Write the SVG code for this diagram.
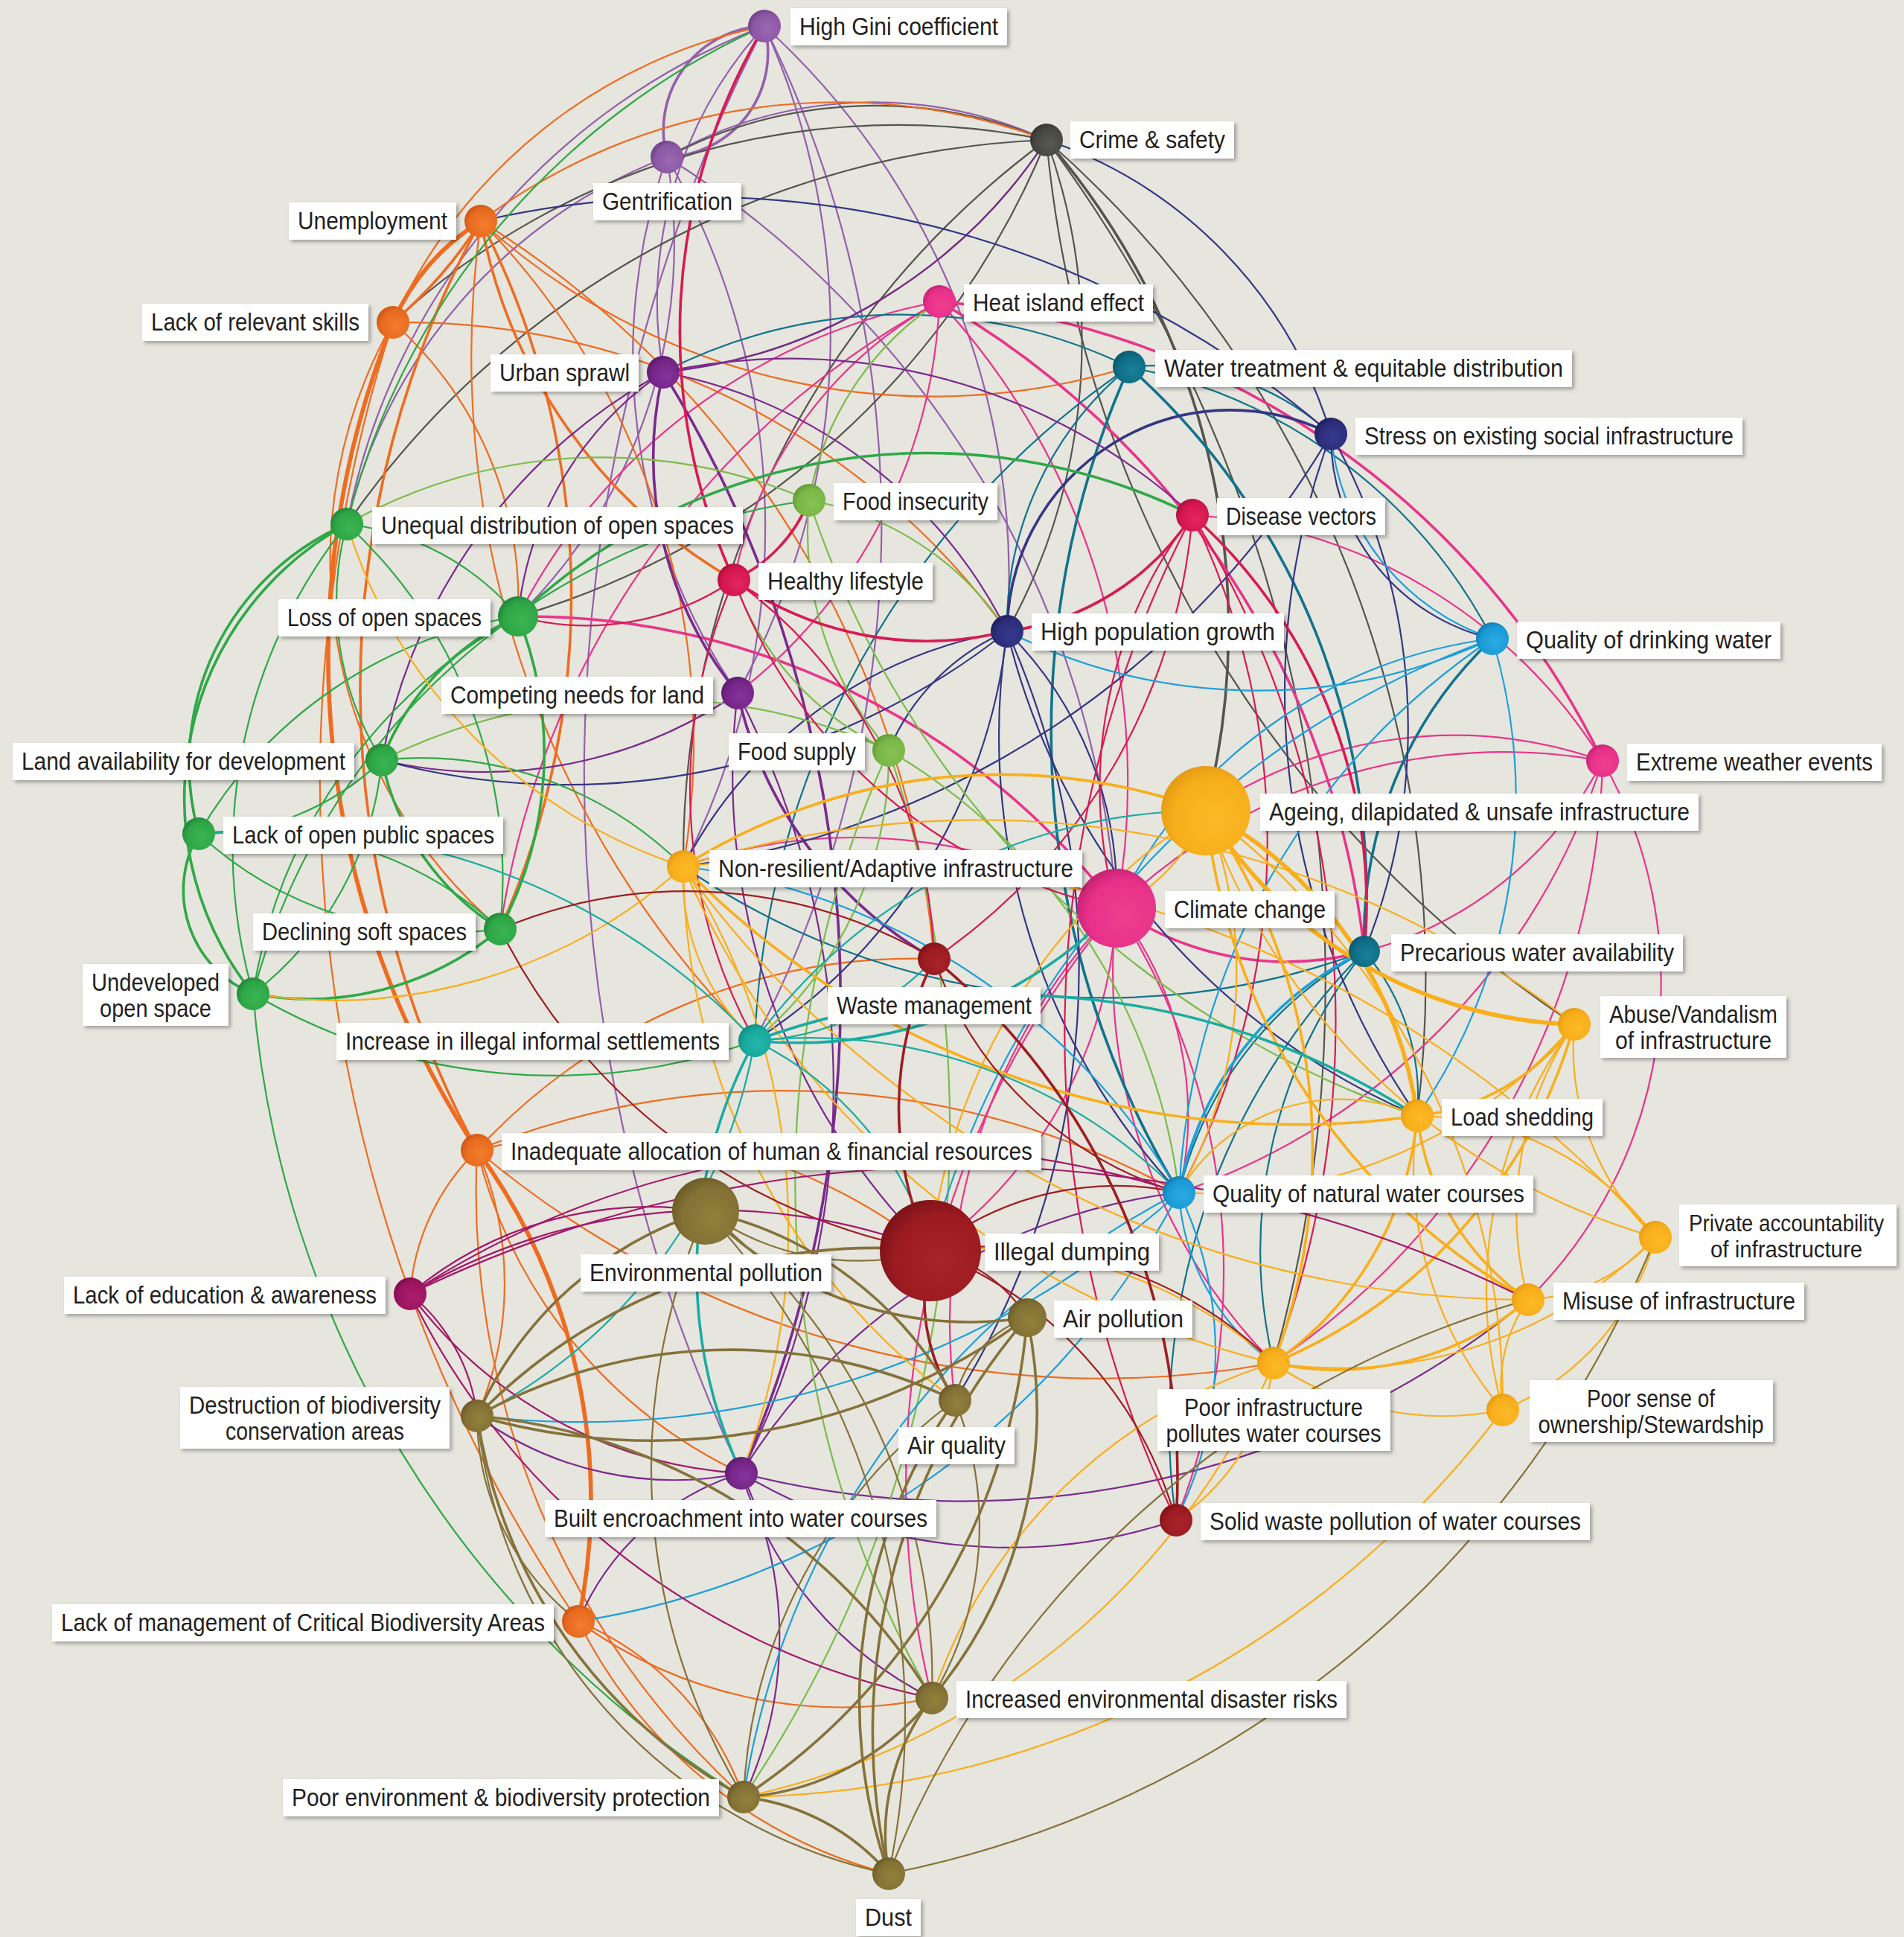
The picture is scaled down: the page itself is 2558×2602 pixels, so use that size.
<svg xmlns="http://www.w3.org/2000/svg" width="2558" height="2602" viewBox="0 0 2558 2602">
<style>
.e path{fill:none;stroke-width:2.2;stroke-linecap:round}
.e .m{stroke-width:3.6}
.e .h{stroke-width:5.6}
.pu{stroke:#9360ab}.k{stroke:#55554f}.o{stroke:#ee6c21}.pk{stroke:#e93489}.td{stroke:#10738b}.dp{stroke:#7a2a8d}.nv{stroke:#353683}.lg{stroke:#7cbb4a}.cr{stroke:#d81a52}.g{stroke:#2fa847}.b{stroke:#1c9fdb}.y{stroke:#f9ae1c}.dr{stroke:#9e1d22}.tl{stroke:#19aca0}.ol{stroke:#85723a}.mg{stroke:#a3186a}
.lb{fill:#fff;filter:url(#sh)}
.tx{font-family:"Liberation Sans",Arial,sans-serif;font-size:33px;fill:#231f20}
.c{text-anchor:middle}
.sm{font-size:31px}
</style>
<defs>
<filter id="sh" x="-10%" y="-20%" width="125%" height="150%"><feDropShadow dx="3" dy="3" stdDeviation="2.5" flood-color="#000" flood-opacity="0.3"/></filter>
<radialGradient id="gpu" cx=".6" cy=".6" r=".65"><stop offset="0" stop-color="#9c68b3"/><stop offset=".7" stop-color="#8b57a3"/><stop offset="1" stop-color="#6d3f85"/></radialGradient>
<radialGradient id="gk" cx=".6" cy=".6" r=".65"><stop offset="0" stop-color="#5a5a54"/><stop offset=".7" stop-color="#474742"/><stop offset="1" stop-color="#33332f"/></radialGradient>
<radialGradient id="go" cx=".6" cy=".6" r=".65"><stop offset="0" stop-color="#f27d2c"/><stop offset=".7" stop-color="#e86a1f"/><stop offset="1" stop-color="#c95515"/></radialGradient>
<radialGradient id="gpk" cx=".6" cy=".6" r=".65"><stop offset="0" stop-color="#ef3f8e"/><stop offset=".7" stop-color="#e8318a"/><stop offset="1" stop-color="#c2216f"/></radialGradient>
<radialGradient id="gtd" cx=".6" cy=".6" r=".65"><stop offset="0" stop-color="#1a8099"/><stop offset=".7" stop-color="#0e6d85"/><stop offset="1" stop-color="#0a5468"/></radialGradient>
<radialGradient id="gdp" cx=".6" cy=".6" r=".65"><stop offset="0" stop-color="#86349b"/><stop offset=".7" stop-color="#742586"/><stop offset="1" stop-color="#58196a"/></radialGradient>
<radialGradient id="gnv" cx=".6" cy=".6" r=".65"><stop offset="0" stop-color="#363a8e"/><stop offset=".7" stop-color="#2c2d7a"/><stop offset="1" stop-color="#1d1e5b"/></radialGradient>
<radialGradient id="glg" cx=".6" cy=".6" r=".65"><stop offset="0" stop-color="#88c254"/><stop offset=".7" stop-color="#79b547"/><stop offset="1" stop-color="#5e9934"/></radialGradient>
<radialGradient id="gcr" cx=".6" cy=".6" r=".65"><stop offset="0" stop-color="#e2265e"/><stop offset=".7" stop-color="#d4164f"/><stop offset="1" stop-color="#a70f3c"/></radialGradient>
<radialGradient id="gg" cx=".6" cy=".6" r=".65"><stop offset="0" stop-color="#3ab551"/><stop offset=".7" stop-color="#2ea646"/><stop offset="1" stop-color="#218236"/></radialGradient>
<radialGradient id="gb" cx=".6" cy=".6" r=".65"><stop offset="0" stop-color="#2caae2"/><stop offset=".7" stop-color="#1a9ad6"/><stop offset="1" stop-color="#1277ad"/></radialGradient>
<radialGradient id="gy" cx=".6" cy=".6" r=".65"><stop offset="0" stop-color="#fbb928"/><stop offset=".7" stop-color="#f8ae1b"/><stop offset="1" stop-color="#e29a12"/></radialGradient>
<radialGradient id="gdr" cx=".6" cy=".6" r=".65"><stop offset="0" stop-color="#a8252a"/><stop offset=".7" stop-color="#9b1b20"/><stop offset="1" stop-color="#7a1217"/></radialGradient>
<radialGradient id="gtl" cx=".6" cy=".6" r=".65"><stop offset="0" stop-color="#23b7a9"/><stop offset=".7" stop-color="#17a99c"/><stop offset="1" stop-color="#0f887e"/></radialGradient>
<radialGradient id="gol" cx=".6" cy=".6" r=".65"><stop offset="0" stop-color="#92803d"/><stop offset=".7" stop-color="#837135"/><stop offset="1" stop-color="#685926"/></radialGradient>
<radialGradient id="gmg" cx=".6" cy=".6" r=".65"><stop offset="0" stop-color="#ad1e6c"/><stop offset=".7" stop-color="#9c1460"/><stop offset="1" stop-color="#790c4a"/></radialGradient>
</defs>
<rect width="2558" height="2602" fill="#e6e5de"/>
<g id="connectors" class="e">
<path class="pu m" d="M1027 35A140 140 0 0 0 896 211"/>
<path class="pu m" d="M1027 35A140 140 0 0 1 896 211"/>
<path class="pu" d="M1027 35A550 550 0 0 0 891 500"/>
<path class="pu" d="M1027 35A1000 1000 0 0 1 991 931"/>
<path class="pu" d="M1027 35A1000 1000 0 0 1 1353 848"/>
<path class="pu" d="M1027 35A2200 2200 0 0 0 996 1979"/>
<path class="pu" d="M1027 35A1500 1500 0 0 1 1014 1398"/>
<path class="pu" d="M1027 35A900 900 0 0 0 466 704"/>
<path class="pu" d="M896 211A560 560 0 0 1 1406 188"/>
<path class="pu" d="M896 211A700 700 0 0 0 466 704"/>
<path class="pu" d="M896 211A700 700 0 0 1 696 828"/>
<path class="pu" d="M896 211A800 800 0 0 0 991 931"/>
<path class="pu" d="M896 211A1000 1000 0 0 1 918 1164"/>
<path class="pu" d="M896 211A1300 1300 0 0 1 1500 1220"/>
<path class="k m" d="M1406 188A1000 1000 0 0 1 1620 1089"/>
<path class="k" d="M1406 188A600 600 0 0 0 896 211"/>
<path class="k" d="M1406 188A1200 1200 0 0 0 466 704"/>
<path class="k" d="M1406 188A1000 1000 0 0 0 528 433"/>
<path class="k" d="M1406 188A700 700 0 0 1 891 500"/>
<path class="k" d="M1406 188A1500 1500 0 0 1 1904 1499"/>
<path class="k" d="M1406 188A1600 1600 0 0 0 2115 1376"/>
<path class="k" d="M1406 188A1200 1200 0 0 0 918 1164"/>
<path class="k" d="M1406 188A800 800 0 0 1 1353 848"/>
<path class="k" d="M1406 188A1900 1900 0 0 1 1711 1831"/>
<path class="k" d="M1406 188A1100 1100 0 0 1 696 828"/>
<path class="o h" d="M646 297A300 300 0 0 0 528 433"/>
<path class="o m" d="M646 297A600 600 0 0 1 528 433"/>
<path class="o" d="M646 297A800 800 0 0 1 1406 188"/>
<path class="o m" d="M646 297A700 700 0 0 0 986 779"/>
<path class="o m" d="M646 297A1300 1300 0 0 0 641 1545"/>
<path class="o" d="M646 297A1300 1300 0 0 1 1255 1288"/>
<path class="o" d="M646 297A1300 1300 0 0 0 1014 1398"/>
<path class="o" d="M646 297A900 900 0 0 0 1517 493"/>
<path class="o h" d="M528 433A1200 1200 0 0 0 641 1545"/>
<path class="o" d="M528 433A1000 1000 0 0 1 1353 848"/>
<path class="o" d="M528 433A500 500 0 0 1 696 828"/>
<path class="o" d="M528 433A2000 2000 0 0 0 777 2178"/>
<path class="o" d="M528 433A650 650 0 0 0 672 1248"/>
<path class="o" d="M528 433A700 700 0 0 1 1027 35"/>
<path class="o h" d="M641 1545A800 800 0 0 1 777 2178"/>
<path class="o" d="M641 1545A650 650 0 0 0 996 1979"/>
<path class="o" d="M641 1545A300 300 0 0 0 551 1738"/>
<path class="o" d="M641 1545A450 450 0 0 1 641 1902"/>
<path class="o" d="M641 1545A1100 1100 0 0 1 1584 1602"/>
<path class="o" d="M641 1545A1100 1100 0 0 0 999 2414"/>
<path class="o" d="M641 1545A1300 1300 0 0 0 1711 1831"/>
<path class="o" d="M641 1545A700 700 0 0 1 1250 1680"/>
<path class="o" d="M777 2178A600 600 0 0 0 1252 2281"/>
<path class="o" d="M777 2178A650 650 0 0 0 1194 2517"/>
<path class="o" d="M777 2178A400 400 0 0 1 999 2414"/>
<path class="o" d="M646 297A1000 1000 0 0 1 918 1164"/>
<path class="o" d="M641 1545A800 800 0 0 1 1255 1288"/>
<path class="o m" d="M646 297A1100 1100 0 0 1 672 1248"/>
<path class="pk m" d="M1262 405A1100 1100 0 0 1 2153 1022"/>
<path class="pk" d="M1262 405A550 550 0 0 0 986 779"/>
<path class="pk" d="M1262 405A950 950 0 0 1 1500 1220"/>
<path class="pk" d="M1262 405A800 800 0 0 0 696 828"/>
<path class="pk m" d="M1262 405A1150 1150 0 0 1 1833 1278"/>
<path class="pk" d="M1262 405A1150 1150 0 0 0 672 1248"/>
<path class="pk" d="M1262 405A700 700 0 0 1 991 931"/>
<path class="pk m" d="M1500 1220A400 400 0 0 0 1833 1278"/>
<path class="pk" d="M1500 1220A750 750 0 0 1 2153 1022"/>
<path class="pk" d="M1500 1220A450 450 0 0 1 1584 1602"/>
<path class="pk" d="M1500 1220A750 750 0 0 0 1711 1831"/>
<path class="pk" d="M1500 1220A800 800 0 0 0 1283 1881"/>
<path class="pk" d="M1500 1220A900 900 0 0 1 1580 2042"/>
<path class="pk m" d="M1500 1220A1000 1000 0 0 0 696 828"/>
<path class="pk" d="M1500 1220A600 600 0 0 1 1250 1680"/>
<path class="pk" d="M1500 1220A1200 1200 0 0 0 1252 2281"/>
<path class="pk" d="M1500 1220A700 700 0 0 0 918 1164"/>
<path class="pk" d="M2153 1022A600 600 0 0 0 1620 1089"/>
<path class="pk" d="M2153 1022A500 500 0 0 1 1833 1278"/>
<path class="pk" d="M2153 1022A1000 1000 0 0 1 1711 1831"/>
<path class="pk" d="M2153 1022A600 600 0 0 1 2053 1746"/>
<path class="pk" d="M2153 1022A900 900 0 0 1 1584 1602"/>
<path class="pk" d="M2153 1022A700 700 0 0 0 1602 692"/>
<path class="td m" d="M1517 493A950 950 0 0 1 1833 1278"/>
<path class="td" d="M1517 493A700 700 0 0 1 2005 858"/>
<path class="td" d="M1517 493A450 450 0 0 0 1353 848"/>
<path class="td m" d="M1517 493A1200 1200 0 0 0 1584 1602"/>
<path class="td" d="M1517 493A350 350 0 0 1 1788 583"/>
<path class="td" d="M1517 493A1150 1150 0 0 0 1014 1398"/>
<path class="td" d="M1517 493A700 700 0 0 0 891 500"/>
<path class="td" d="M1833 1278A500 500 0 0 0 1584 1602"/>
<path class="td" d="M1833 1278A300 300 0 0 1 1904 1499"/>
<path class="td m" d="M1833 1278A550 550 0 0 1 2005 858"/>
<path class="td" d="M1833 1278A650 650 0 0 0 1711 1831"/>
<path class="td" d="M1833 1278A1000 1000 0 0 1 918 1164"/>
<path class="td" d="M1833 1278A900 900 0 0 0 1580 2042"/>
<path class="dp m" d="M891 500A500 500 0 0 0 991 931"/>
<path class="dp m" d="M891 500A1600 1600 0 0 1 996 1979"/>
<path class="dp" d="M891 500A700 700 0 0 0 1406 188"/>
<path class="dp" d="M891 500A450 450 0 0 0 696 828"/>
<path class="dp" d="M891 500A750 750 0 0 0 513 1021"/>
<path class="dp" d="M891 500A800 800 0 0 1 1602 692"/>
<path class="dp" d="M891 500A650 650 0 0 1 1353 848"/>
<path class="dp m" d="M991 931A550 550 0 0 0 1255 1288"/>
<path class="dp" d="M991 931A1150 1150 0 0 1 996 1979"/>
<path class="dp" d="M991 931A600 600 0 0 1 513 1021"/>
<path class="dp" d="M991 931A900 900 0 0 0 1250 1680"/>
<path class="dp" d="M996 1979A800 800 0 0 1 1584 1602"/>
<path class="dp" d="M996 1979A700 700 0 0 0 1580 2042"/>
<path class="dp" d="M996 1979A500 500 0 0 1 999 2414"/>
<path class="dp" d="M996 1979A500 500 0 0 0 1252 2281"/>
<path class="dp" d="M996 1979A450 450 0 0 1 641 1902"/>
<path class="dp" d="M996 1979A350 350 0 0 0 777 2178"/>
<path class="dp" d="M996 1979A1200 1200 0 0 0 2053 1746"/>
<path class="nv m" d="M1788 583A300 300 0 0 0 1353 848"/>
<path class="nv" d="M1788 583A600 600 0 0 0 1406 188"/>
<path class="nv" d="M1788 583A280 280 0 0 0 2005 858"/>
<path class="nv" d="M1788 583A1000 1000 0 0 0 1904 1499"/>
<path class="nv" d="M1788 583A800 800 0 0 1 1833 1278"/>
<path class="nv" d="M1788 583A1300 1300 0 0 0 646 297"/>
<path class="nv" d="M1788 583A1200 1200 0 0 1 918 1164"/>
<path class="nv" d="M1353 848A300 300 0 0 0 1194 1008"/>
<path class="nv" d="M1353 848A500 500 0 0 1 1500 1220"/>
<path class="nv" d="M1353 848A750 750 0 0 1 1014 1398"/>
<path class="nv" d="M1353 848A950 950 0 0 0 1904 1499"/>
<path class="nv" d="M1353 848A900 900 0 0 0 1584 1602"/>
<path class="nv" d="M1353 848A950 950 0 0 1 513 1021"/>
<path class="nv" d="M1353 848A600 600 0 0 0 918 1164"/>
<path class="nv" d="M1353 848A1100 1100 0 0 1 1283 1881"/>
<path class="lg" d="M1087 672A450 450 0 0 0 1194 1008"/>
<path class="lg" d="M1087 672A400 400 0 0 1 1262 405"/>
<path class="lg" d="M1087 672A400 400 0 0 1 1353 848"/>
<path class="lg" d="M1087 672A1300 1300 0 0 0 1904 1499"/>
<path class="lg" d="M1087 672A700 700 0 0 0 466 704"/>
<path class="lg" d="M1194 1008A500 500 0 0 1 1014 1398"/>
<path class="lg" d="M1194 1008A1400 1400 0 0 0 1252 2281"/>
<path class="lg" d="M1194 1008A400 400 0 0 1 986 779"/>
<path class="lg" d="M1194 1008A800 800 0 0 0 513 1021"/>
<path class="lg" d="M1194 1008A800 800 0 0 1 1584 1602"/>
<path class="lg" d="M1194 1008A1600 1600 0 0 1 999 2414"/>
<path class="cr m" d="M986 779A800 800 0 0 1 1027 35"/>
<path class="cr m" d="M986 779A450 450 0 0 0 1353 848"/>
<path class="cr m" d="M986 779A200 200 0 0 0 1087 672"/>
<path class="cr" d="M986 779A350 350 0 0 1 696 828"/>
<path class="cr" d="M986 779A650 650 0 0 1 1255 1288"/>
<path class="cr" d="M986 779A700 700 0 0 0 1014 1398"/>
<path class="cr" d="M986 779A700 700 0 0 0 1500 1220"/>
<path class="cr m" d="M1602 692A350 350 0 0 1 1353 848"/>
<path class="cr m" d="M1602 692A700 700 0 0 1 1833 1278"/>
<path class="cr" d="M1602 692A600 600 0 0 0 1500 1220"/>
<path class="cr" d="M1602 692A800 800 0 0 1 1255 1288"/>
<path class="cr" d="M1602 692A1000 1000 0 0 1 1584 1602"/>
<path class="cr" d="M1602 692A1500 1500 0 0 0 1580 2042"/>
<path class="cr" d="M1602 692A1300 1300 0 0 1 1711 1831"/>
<path class="g" d="M466 704A350 350 0 0 1 696 828"/>
<path class="g" d="M466 704A400 400 0 0 0 513 1021"/>
<path class="g m" d="M466 704A350 350 0 0 0 267 1120"/>
<path class="g" d="M466 704A650 650 0 0 1 672 1248"/>
<path class="g" d="M466 704A700 700 0 0 0 340 1335"/>
<path class="g m" d="M466 704A420 420 0 0 0 340 1335"/>
<path class="g" d="M466 704A1000 1000 0 0 1 1027 35"/>
<path class="g m" d="M696 828A350 350 0 0 0 513 1021"/>
<path class="g" d="M696 828A600 600 0 0 0 267 1120"/>
<path class="g m" d="M696 828A500 500 0 0 1 672 1248"/>
<path class="g" d="M696 828A700 700 0 0 0 340 1335"/>
<path class="g m" d="M696 828A800 800 0 0 1 1602 692"/>
<path class="g" d="M513 1021A350 350 0 0 1 267 1120"/>
<path class="g m" d="M513 1021A350 350 0 0 0 672 1248"/>
<path class="g" d="M513 1021A450 450 0 0 1 340 1335"/>
<path class="g" d="M513 1021A500 500 0 0 1 918 1164"/>
<path class="g m" d="M267 1120A150 150 0 0 0 340 1335"/>
<path class="g" d="M267 1120A500 500 0 0 0 672 1248"/>
<path class="g" d="M267 1120A500 500 0 0 1 672 1248"/>
<path class="g m" d="M672 1248A400 400 0 0 1 340 1335"/>
<path class="g" d="M340 1335A800 800 0 0 0 1014 1398"/>
<path class="g" d="M340 1335A1400 1400 0 0 0 999 2414"/>
<path class="g" d="M340 1335A900 900 0 0 1 1087 672"/>
<path class="b" d="M2005 858A950 950 0 0 0 1584 1602"/>
<path class="b" d="M2005 858A750 750 0 0 1 1904 1499"/>
<path class="b" d="M2005 858A1200 1200 0 0 0 1250 1680"/>
<path class="b" d="M2005 858A750 750 0 0 1 1353 848"/>
<path class="b" d="M2005 858A650 650 0 0 0 1500 1220"/>
<path class="b" d="M2005 858A320 320 0 0 1 1788 583"/>
<path class="b" d="M1584 1602A500 500 0 0 1 1580 2042"/>
<path class="b" d="M1584 1602A300 300 0 0 0 1711 1831"/>
<path class="b" d="M1584 1602A1100 1100 0 0 1 777 2178"/>
<path class="b m" d="M1584 1602A450 450 0 0 1 1833 1278"/>
<path class="b" d="M1584 1602A1100 1100 0 0 0 999 2414"/>
<path class="b" d="M1584 1602A900 900 0 0 0 918 1164"/>
<path class="b" d="M1584 1602A1200 1200 0 0 1 641 1902"/>
<path class="y" d="M1620 1089A250 250 0 0 1 1500 1220"/>
<path class="y h" d="M1620 1089A600 600 0 0 0 2115 1376"/>
<path class="y h" d="M1620 1089A550 550 0 0 1 1904 1499"/>
<path class="y m" d="M1620 1089A800 800 0 0 1 1711 1831"/>
<path class="y m" d="M1620 1089A850 850 0 0 0 2053 1746"/>
<path class="y m" d="M1620 1089A800 800 0 0 0 918 1164"/>
<path class="y" d="M1620 1089A900 900 0 0 0 2224 1662"/>
<path class="y" d="M1620 1089A1000 1000 0 0 1 2019 1894"/>
<path class="y" d="M1620 1089A600 600 0 0 1 1584 1602"/>
<path class="y" d="M1620 1089A800 800 0 0 0 1250 1680"/>
<path class="y m" d="M918 1164A1150 1150 0 0 0 1904 1499"/>
<path class="y" d="M918 1164A1300 1300 0 0 1 2115 1376"/>
<path class="y" d="M918 1164A300 300 0 0 0 1014 1398"/>
<path class="y" d="M918 1164A1150 1150 0 0 0 1711 1831"/>
<path class="y" d="M918 1164A1400 1400 0 0 0 2053 1746"/>
<path class="y" d="M918 1164A1500 1500 0 0 1 2224 1662"/>
<path class="y" d="M918 1164A900 900 0 0 1 996 1979"/>
<path class="y" d="M918 1164A700 700 0 0 1 340 1335"/>
<path class="y" d="M918 1164A700 700 0 0 1 466 704"/>
<path class="y" d="M918 1164A900 900 0 0 0 1283 1881"/>
<path class="y m" d="M2115 1376A300 300 0 0 1 1904 1499"/>
<path class="y" d="M2115 1376A450 450 0 0 0 2053 1746"/>
<path class="y m" d="M2115 1376A700 700 0 0 1 1711 1831"/>
<path class="y" d="M2115 1376A350 350 0 0 0 2224 1662"/>
<path class="y" d="M2115 1376A600 600 0 0 0 2019 1894"/>
<path class="y" d="M2115 1376A650 650 0 0 1 1584 1602"/>
<path class="y m" d="M1904 1499A350 350 0 0 0 2053 1746"/>
<path class="y m" d="M1904 1499A450 450 0 0 1 1711 1831"/>
<path class="y" d="M1904 1499A400 400 0 0 1 2224 1662"/>
<path class="y" d="M1904 1499A500 500 0 0 0 2019 1894"/>
<path class="y" d="M1904 1499A250 250 0 0 0 1584 1602"/>
<path class="y m" d="M2053 1746A400 400 0 0 1 1711 1831"/>
<path class="y" d="M2053 1746A200 200 0 0 0 2019 1894"/>
<path class="y" d="M2053 1746A250 250 0 0 0 2224 1662"/>
<path class="y" d="M2224 1662A600 600 0 0 1 1711 1831"/>
<path class="y" d="M2224 1662A350 350 0 0 1 2019 1894"/>
<path class="y" d="M1711 1831A400 400 0 0 0 2019 1894"/>
<path class="y" d="M1711 1831A300 300 0 0 1 1580 2042"/>
<path class="y" d="M1711 1831A700 700 0 0 0 1252 2281"/>
<path class="y" d="M1711 1831A1000 1000 0 0 1 999 2414"/>
<path class="y" d="M1711 1831A600 600 0 0 0 1250 1680"/>
<path class="y" d="M2019 1894A1300 1300 0 0 1 999 2414"/>
<path class="tl m" d="M1014 1398A650 650 0 0 0 996 1979"/>
<path class="tl" d="M1014 1398A450 450 0 0 1 1250 1680"/>
<path class="tl" d="M1014 1398A350 350 0 0 0 1255 1288"/>
<path class="tl m" d="M1014 1398A1000 1000 0 0 1 1904 1499"/>
<path class="tl" d="M1014 1398A700 700 0 0 1 1584 1602"/>
<path class="tl" d="M1014 1398A900 900 0 0 0 267 1120"/>
<path class="tl m" d="M1014 1398A600 600 0 0 0 1500 1220"/>
<path class="tl" d="M1014 1398A750 750 0 0 1 1620 1089"/>
<path class="tl" d="M1014 1398A700 700 0 0 1 641 1902"/>
<path class="dr m" d="M1255 1288A450 450 0 0 0 1250 1680"/>
<path class="dr m" d="M1255 1288A900 900 0 0 1 1580 2042"/>
<path class="dr" d="M1255 1288A650 650 0 0 0 672 1248"/>
<path class="dr" d="M1255 1288A500 500 0 0 0 1584 1602"/>
<path class="dr" d="M1250 1680A550 550 0 0 1 1580 2042"/>
<path class="dr m" d="M1250 1680A250 250 0 0 0 1283 1881"/>
<path class="dr" d="M1250 1680A400 400 0 0 1 1584 1602"/>
<path class="dr" d="M1250 1680A200 200 0 0 1 1380 1770"/>
<path class="dr" d="M1250 1680A550 550 0 0 1 1711 1831"/>
<path class="dr" d="M1250 1680A800 800 0 0 1 672 1248"/>
<path class="mg" d="M551 1738A250 250 0 0 1 641 1902"/>
<path class="mg" d="M551 1738A600 600 0 0 0 996 1979"/>
<path class="mg" d="M551 1738A500 500 0 0 1 948 1627"/>
<path class="mg" d="M551 1738A800 800 0 0 1 1250 1680"/>
<path class="mg" d="M551 1738A1700 1700 0 0 1 2053 1746"/>
<path class="mg" d="M551 1738A1200 1200 0 0 1 1584 1602"/>
<path class="mg" d="M551 1738A1000 1000 0 0 0 1252 2281"/>
<path class="ol m" d="M948 1627A500 500 0 0 0 1380 1770"/>
<path class="ol m" d="M948 1627A500 500 0 0 1 1283 1881"/>
<path class="ol m" d="M948 1627A500 500 0 0 0 641 1902"/>
<path class="ol" d="M948 1627A800 800 0 0 1 1252 2281"/>
<path class="ol" d="M948 1627A850 850 0 0 0 999 2414"/>
<path class="ol" d="M948 1627A1000 1000 0 0 1 1194 2517"/>
<path class="ol" d="M948 1627A350 350 0 0 0 1250 1680"/>
<path class="ol" d="M1380 1770A150 150 0 0 0 1283 1881"/>
<path class="ol m" d="M1380 1770A850 850 0 0 0 1194 2517"/>
<path class="ol m" d="M1380 1770A600 600 0 0 1 1252 2281"/>
<path class="ol m" d="M1380 1770A850 850 0 0 1 999 2414"/>
<path class="ol m" d="M1380 1770A850 850 0 0 1 641 1902"/>
<path class="ol m" d="M1283 1881A700 700 0 0 0 1194 2517"/>
<path class="ol" d="M1283 1881A450 450 0 0 1 1252 2281"/>
<path class="ol m" d="M1283 1881A700 700 0 0 0 641 1902"/>
<path class="ol" d="M1283 1881A700 700 0 0 0 999 2414"/>
<path class="ol m" d="M641 1902A700 700 0 0 0 999 2414"/>
<path class="ol" d="M641 1902A700 700 0 0 0 1194 2517"/>
<path class="ol m" d="M641 1902A800 800 0 0 1 1252 2281"/>
<path class="ol m" d="M641 1902A750 750 0 0 1 1250 1680"/>
<path class="ol" d="M641 1902A350 350 0 0 0 777 2178"/>
<path class="ol m" d="M1252 2281A350 350 0 0 1 999 2414"/>
<path class="ol m" d="M1252 2281A300 300 0 0 0 1194 2517"/>
<path class="ol m" d="M999 2414A300 300 0 0 1 1194 2517"/>
<path class="ol" d="M1194 2517A1300 1300 0 0 1 2053 1746"/>
<path class="ol" d="M1194 2517A1400 1400 0 0 0 2224 1662"/>
</g>
<g id="n-high-gini"><circle cx="1027" cy="35" r="22" fill="url(#gpu)"/><rect class="lb" x="1062" y="11" width="291" height="50"/><text class="tx" x="1074" y="47" textLength="267" lengthAdjust="spacingAndGlyphs">High Gini coefficient</text></g>
<g id="n-crime"><circle cx="1406" cy="188" r="22" fill="url(#gk)"/><rect class="lb" x="1438" y="163" width="220" height="50"/><text class="tx" x="1450" y="199" textLength="196" lengthAdjust="spacingAndGlyphs">Crime &amp; safety</text></g>
<g id="n-gentrification"><circle cx="896" cy="211" r="22" fill="url(#gpu)"/><rect class="lb" x="797" y="246" width="199" height="50"/><text class="tx" x="809" y="282" textLength="175" lengthAdjust="spacingAndGlyphs">Gentrification</text></g>
<g id="n-unemployment"><circle cx="646" cy="297" r="22" fill="url(#go)"/><rect class="lb" x="388" y="272" width="225" height="50"/><text class="tx" x="400" y="308" textLength="201" lengthAdjust="spacingAndGlyphs">Unemployment</text></g>
<g id="n-skills"><circle cx="528" cy="433" r="22" fill="url(#go)"/><rect class="lb" x="191" y="408" width="304" height="50"/><text class="tx" x="203" y="444" textLength="280" lengthAdjust="spacingAndGlyphs">Lack of relevant skills</text></g>
<g id="n-heat-island"><circle cx="1262" cy="405" r="22" fill="url(#gpk)"/><rect class="lb" x="1295" y="382" width="254" height="50"/><text class="tx" x="1307" y="418" textLength="230" lengthAdjust="spacingAndGlyphs">Heat island effect</text></g>
<g id="n-water-treatment"><circle cx="1517" cy="493" r="22" fill="url(#gtd)"/><rect class="lb" x="1552" y="470" width="560" height="50"/><text class="tx" x="1564" y="506" textLength="536" lengthAdjust="spacingAndGlyphs">Water treatment &amp; equitable distribution</text></g>
<g id="n-urban-sprawl"><circle cx="891" cy="500" r="22" fill="url(#gdp)"/><rect class="lb" x="659" y="476" width="199" height="50"/><text class="tx" x="671" y="512" textLength="175" lengthAdjust="spacingAndGlyphs">Urban sprawl</text></g>
<g id="n-stress"><circle cx="1788" cy="583" r="22" fill="url(#gnv)"/><rect class="lb" x="1821" y="561" width="520" height="50"/><text class="tx" x="1833" y="597" textLength="496" lengthAdjust="spacingAndGlyphs">Stress on existing social infrastructure</text></g>
<g id="n-food-insecurity"><circle cx="1087" cy="672" r="22" fill="url(#glg)"/><rect class="lb" x="1120" y="649" width="220" height="50"/><text class="tx" x="1132" y="685" textLength="196" lengthAdjust="spacingAndGlyphs">Food insecurity</text></g>
<g id="n-disease-vectors"><circle cx="1602" cy="692" r="22" fill="url(#gcr)"/><rect class="lb" x="1635" y="669" width="226" height="50"/><text class="tx" x="1647" y="705" textLength="202" lengthAdjust="spacingAndGlyphs">Disease vectors</text></g>
<g id="n-unequal"><circle cx="466" cy="704" r="22" fill="url(#gg)"/><rect class="lb" x="500" y="681" width="498" height="50"/><text class="tx" x="512" y="717" textLength="474" lengthAdjust="spacingAndGlyphs">Unequal distribution of open spaces</text></g>
<g id="n-healthy"><circle cx="986" cy="779" r="22" fill="url(#gcr)"/><rect class="lb" x="1019" y="756" width="234" height="50"/><text class="tx" x="1031" y="792" textLength="210" lengthAdjust="spacingAndGlyphs">Healthy lifestyle</text></g>
<g id="n-loss-open"><circle cx="696" cy="828" r="27" fill="url(#gg)"/><rect class="lb" x="374" y="805" width="285" height="50"/><text class="tx" x="386" y="841" textLength="261" lengthAdjust="spacingAndGlyphs">Loss of open spaces</text></g>
<g id="n-high-pop"><circle cx="1353" cy="848" r="22" fill="url(#gnv)"/><rect class="lb" x="1386" y="824" width="339" height="50"/><text class="tx" x="1398" y="860" textLength="315" lengthAdjust="spacingAndGlyphs">High population growth</text></g>
<g id="n-drinking-water"><circle cx="2005" cy="858" r="22" fill="url(#gb)"/><rect class="lb" x="2038" y="835" width="354" height="50"/><text class="tx" x="2050" y="871" textLength="330" lengthAdjust="spacingAndGlyphs">Quality of drinking water</text></g>
<g id="n-competing"><circle cx="991" cy="931" r="22" fill="url(#gdp)"/><rect class="lb" x="593" y="909" width="365" height="50"/><text class="tx" x="605" y="945" textLength="341" lengthAdjust="spacingAndGlyphs">Competing needs for land</text></g>
<g id="n-food-supply"><circle cx="1194" cy="1008" r="22" fill="url(#glg)"/><rect class="lb" x="979" y="985" width="183" height="50"/><text class="tx" x="991" y="1021" textLength="159" lengthAdjust="spacingAndGlyphs">Food supply</text></g>
<g id="n-land-avail"><circle cx="513" cy="1021" r="22" fill="url(#gg)"/><rect class="lb" x="17" y="998" width="459" height="50"/><text class="tx" x="29" y="1034" textLength="435" lengthAdjust="spacingAndGlyphs">Land availability for development</text></g>
<g id="n-extreme-weather"><circle cx="2153" cy="1022" r="22" fill="url(#gpk)"/><rect class="lb" x="2186" y="999" width="342" height="50"/><text class="tx" x="2198" y="1035" textLength="318" lengthAdjust="spacingAndGlyphs">Extreme weather events</text></g>
<g id="n-ageing"><circle cx="1620" cy="1089" r="60" fill="url(#gy)"/><rect class="lb" x="1693" y="1066" width="589" height="50"/><text class="tx" x="1705" y="1102" textLength="565" lengthAdjust="spacingAndGlyphs">Ageing, dilapidated &amp; unsafe infrastructure</text></g>
<g id="n-climate"><circle cx="1500" cy="1220" r="53" fill="url(#gpk)"/><rect class="lb" x="1565" y="1197" width="228" height="50"/><text class="tx" x="1577" y="1233" textLength="204" lengthAdjust="spacingAndGlyphs">Climate change</text></g>
<g id="n-precarious"><circle cx="1833" cy="1278" r="21" fill="url(#gtd)"/><rect class="lb" x="1869" y="1255" width="392" height="50"/><text class="tx" x="1881" y="1291" textLength="368" lengthAdjust="spacingAndGlyphs">Precarious water availability</text></g>
<g id="n-non-resilient"><circle cx="918" cy="1164" r="22" fill="url(#gy)"/><rect class="lb" x="953" y="1142" width="501" height="50"/><text class="tx" x="965" y="1178" textLength="477" lengthAdjust="spacingAndGlyphs">Non-resilient/Adaptive infrastructure</text></g>
<g id="n-lack-open-public"><circle cx="267" cy="1120" r="22" fill="url(#gg)"/><rect class="lb" x="300" y="1097" width="376" height="50"/><text class="tx" x="312" y="1133" textLength="352" lengthAdjust="spacingAndGlyphs">Lack of open public spaces</text></g>
<g id="n-declining"><circle cx="672" cy="1248" r="22" fill="url(#gg)"/><rect class="lb" x="340" y="1227" width="299" height="50"/><text class="tx" x="352" y="1263" textLength="275" lengthAdjust="spacingAndGlyphs">Declining soft spaces</text></g>
<g id="n-waste-mgmt"><circle cx="1255" cy="1288" r="22" fill="url(#gdr)"/><rect class="lb" x="1112" y="1326" width="286" height="50"/><text class="tx" x="1124" y="1362" textLength="262" lengthAdjust="spacingAndGlyphs">Waste management</text></g>
<g id="n-undeveloped"><circle cx="340" cy="1335" r="22" fill="url(#gg)"/><rect class="lb" x="111" y="1295" width="196" height="83"/><text class="tx c" x="209" y="1331" textLength="172" lengthAdjust="spacingAndGlyphs">Undeveloped</text><text class="tx c" x="209" y="1366" textLength="150" lengthAdjust="spacingAndGlyphs">open space</text></g>
<g id="n-abuse"><circle cx="2115" cy="1376" r="22" fill="url(#gy)"/><rect class="lb" x="2150" y="1338" width="250" height="83"/><text class="tx c" x="2275" y="1374" textLength="226" lengthAdjust="spacingAndGlyphs">Abuse/Vandalism</text><text class="tx c" x="2275" y="1409" textLength="210" lengthAdjust="spacingAndGlyphs">of infrastructure</text></g>
<g id="n-informal"><circle cx="1014" cy="1398" r="22" fill="url(#gtl)"/><rect class="lb" x="452" y="1374" width="527" height="50"/><text class="tx" x="464" y="1410" textLength="503" lengthAdjust="spacingAndGlyphs">Increase in illegal informal settlements</text></g>
<g id="n-load-shedding"><circle cx="1904" cy="1499" r="22" fill="url(#gy)"/><rect class="lb" x="1937" y="1476" width="216" height="50"/><text class="tx" x="1949" y="1512" textLength="192" lengthAdjust="spacingAndGlyphs">Load shedding</text></g>
<g id="n-inadequate"><circle cx="641" cy="1545" r="22" fill="url(#go)"/><rect class="lb" x="674" y="1522" width="725" height="50"/><text class="tx" x="686" y="1558" textLength="701" lengthAdjust="spacingAndGlyphs">Inadequate allocation of human &amp; financial resources</text></g>
<g id="n-natural-water"><circle cx="1584" cy="1602" r="22" fill="url(#gb)"/><rect class="lb" x="1617" y="1579" width="443" height="50"/><text class="tx" x="1629" y="1615" textLength="419" lengthAdjust="spacingAndGlyphs">Quality of natural water courses</text></g>
<g id="n-env-pollution"><circle cx="948" cy="1627" r="45" fill="url(#gol)"/><rect class="lb" x="780" y="1685" width="337" height="50"/><text class="tx" x="792" y="1721" textLength="313" lengthAdjust="spacingAndGlyphs">Environmental pollution</text></g>
<g id="n-illegal-dumping"><circle cx="1250" cy="1680" r="68" fill="url(#gdr)"/><rect class="lb" x="1323" y="1657" width="234" height="50"/><text class="tx" x="1335" y="1693" textLength="210" lengthAdjust="spacingAndGlyphs">Illegal dumping</text></g>
<g id="n-private"><circle cx="2224" cy="1662" r="22" fill="url(#gy)"/><rect class="lb" x="2256" y="1618" width="292" height="83"/><text class="tx c sm" x="2400" y="1654" textLength="262" lengthAdjust="spacingAndGlyphs">Private accountability</text><text class="tx c sm" x="2400" y="1689" textLength="204" lengthAdjust="spacingAndGlyphs">of infrastructure</text></g>
<g id="n-education"><circle cx="551" cy="1738" r="22" fill="url(#gmg)"/><rect class="lb" x="86" y="1715" width="432" height="50"/><text class="tx" x="98" y="1751" textLength="408" lengthAdjust="spacingAndGlyphs">Lack of education &amp; awareness</text></g>
<g id="n-misuse"><circle cx="2053" cy="1746" r="22" fill="url(#gy)"/><rect class="lb" x="2087" y="1723" width="337" height="50"/><text class="tx" x="2099" y="1759" textLength="313" lengthAdjust="spacingAndGlyphs">Misuse of infrastructure</text></g>
<g id="n-air-pollution"><circle cx="1380" cy="1770" r="26" fill="url(#gol)"/><rect class="lb" x="1416" y="1747" width="186" height="50"/><text class="tx" x="1428" y="1783" textLength="162" lengthAdjust="spacingAndGlyphs">Air pollution</text></g>
<g id="n-poor-infra"><circle cx="1711" cy="1831" r="22" fill="url(#gy)"/><rect class="lb" x="1555" y="1866" width="313" height="83"/><text class="tx c" x="1711" y="1902" textLength="240" lengthAdjust="spacingAndGlyphs">Poor infrastructure</text><text class="tx c" x="1711" y="1937" textLength="289" lengthAdjust="spacingAndGlyphs">pollutes water courses</text></g>
<g id="n-air-quality"><circle cx="1283" cy="1881" r="22" fill="url(#gol)"/><rect class="lb" x="1207" y="1917" width="156" height="50"/><text class="tx" x="1219" y="1953" textLength="132" lengthAdjust="spacingAndGlyphs">Air quality</text></g>
<g id="n-poor-sense"><circle cx="2019" cy="1894" r="22" fill="url(#gy)"/><rect class="lb" x="2055" y="1854" width="327" height="83"/><text class="tx c" x="2218" y="1890" textLength="172" lengthAdjust="spacingAndGlyphs">Poor sense of</text><text class="tx c" x="2218" y="1925" textLength="303" lengthAdjust="spacingAndGlyphs">ownership/Stewardship</text></g>
<g id="n-destruction"><circle cx="641" cy="1902" r="22" fill="url(#gol)"/><rect class="lb" x="242" y="1863" width="362" height="83"/><text class="tx c" x="423" y="1899" textLength="338" lengthAdjust="spacingAndGlyphs">Destruction of biodiversity</text><text class="tx c" x="423" y="1934" textLength="240" lengthAdjust="spacingAndGlyphs">conservation areas</text></g>
<g id="n-built"><circle cx="996" cy="1979" r="22" fill="url(#gdp)"/><rect class="lb" x="732" y="2015" width="526" height="50"/><text class="tx" x="744" y="2051" textLength="502" lengthAdjust="spacingAndGlyphs">Built encroachment into water courses</text></g>
<g id="n-solid-waste"><circle cx="1580" cy="2042" r="22" fill="url(#gdr)"/><rect class="lb" x="1613" y="2019" width="523" height="50"/><text class="tx" x="1625" y="2055" textLength="499" lengthAdjust="spacingAndGlyphs">Solid waste pollution of water courses</text></g>
<g id="n-lack-mgmt"><circle cx="777" cy="2178" r="22" fill="url(#go)"/><rect class="lb" x="70" y="2155" width="674" height="50"/><text class="tx" x="82" y="2191" textLength="650" lengthAdjust="spacingAndGlyphs">Lack of management of Critical Biodiversity Areas</text></g>
<g id="n-increased-risk"><circle cx="1252" cy="2281" r="22" fill="url(#gol)"/><rect class="lb" x="1285" y="2258" width="524" height="50"/><text class="tx" x="1297" y="2294" textLength="500" lengthAdjust="spacingAndGlyphs">Increased environmental disaster risks</text></g>
<g id="n-poor-env"><circle cx="999" cy="2414" r="22" fill="url(#gol)"/><rect class="lb" x="380" y="2390" width="586" height="50"/><text class="tx" x="392" y="2426" textLength="562" lengthAdjust="spacingAndGlyphs">Poor environment &amp; biodiversity protection</text></g>
<g id="n-dust"><circle cx="1194" cy="2517" r="22" fill="url(#gol)"/><rect class="lb" x="1150" y="2551" width="87" height="50"/><text class="tx" x="1162" y="2587" textLength="63" lengthAdjust="spacingAndGlyphs">Dust</text></g>
</svg>
